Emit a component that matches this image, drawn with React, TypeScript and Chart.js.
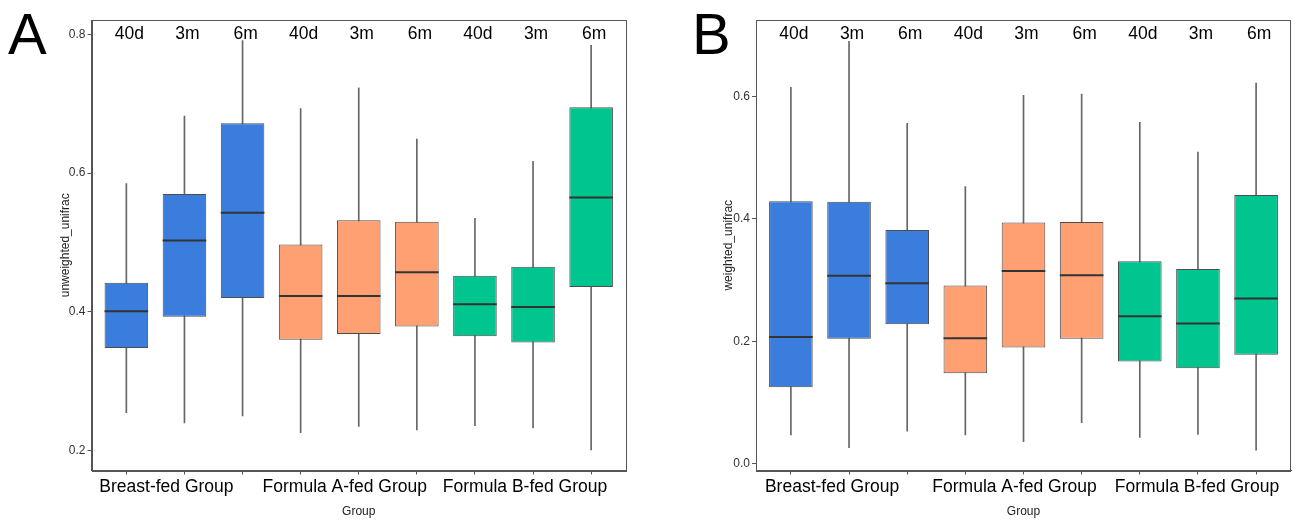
import React, { useEffect, useRef } from "react";
import { Chart, registerables } from "chart.js";

Chart.register(...registerables);

const FONT = '"Liberation Sans", Arial, Helvetica, sans-serif';

const timeLabels = ["40d", "3m", "6m", "40d", "3m", "6m", "40d", "3m", "6m"];
const groupLabels = ["Breast-fed Group", "Formula A-fed Group", "Formula B-fed Group"];
const groupTickPositions = [2, 5, 8];
const boxPositions = [1, 2, 3, 4, 5, 6, 7, 8, 9];
const boxColors = [
  "#3B7DDD", "#3B7DDD", "#3B7DDD",
  "#FFA073", "#FFA073", "#FFA073",
  "#00C58F", "#00C58F", "#00C58F",
];

// Panel A: unweighted_unifrac
const unwLow = [0.255, 0.240, 0.250, 0.226, 0.235, 0.230, 0.236, 0.233, 0.201];
const unwQ1 = [0.348, 0.393, 0.420, 0.360, 0.368, 0.379, 0.365, 0.356, 0.436];
const unwMed = [0.401, 0.503, 0.543, 0.423, 0.423, 0.457, 0.411, 0.407, 0.565];
const unwQ3 = [0.442, 0.570, 0.672, 0.497, 0.532, 0.530, 0.452, 0.465, 0.695];
const unwHigh = [0.585, 0.682, 0.791, 0.693, 0.723, 0.649, 0.535, 0.617, 0.784];
const unwTicks = [0.2, 0.4, 0.6, 0.8];

// Panel B: weighted_unifrac
const wLow = [0.047, 0.026, 0.053, 0.047, 0.036, 0.067, 0.043, 0.048, 0.022];
const wQ1 = [0.125, 0.204, 0.228, 0.148, 0.190, 0.204, 0.167, 0.156, 0.178];
const wMed = [0.207, 0.307, 0.295, 0.205, 0.315, 0.308, 0.241, 0.229, 0.270];
const wQ3 = [0.429, 0.428, 0.382, 0.291, 0.394, 0.395, 0.331, 0.318, 0.439];
const wHigh = [0.615, 0.690, 0.556, 0.453, 0.602, 0.604, 0.558, 0.509, 0.622];
const wTicks = [0.0, 0.2, 0.4, 0.6];

type PanelProps = {
  letter: string;
  letterX: number;
  yTitle: string;
  low: number[];
  q1: number[];
  med: number[];
  q3: number[];
  high: number[];
  yMin: number;
  yMax: number;
  yTicks: number[];
  padLeft: number;
  padRight: number;
  yWidth: number;
  left: number;
  labelShift: number[];
};

function Panel(p: PanelProps) {
  const ref = useRef<HTMLCanvasElement>(null);
  useEffect(() => {
    if (!ref.current) return;
    const extras = {
      id: "boxExtras",
      afterDatasetsDraw(chart: any) {
        const { ctx, chartArea, scales } = chart;
        const meta = chart.getDatasetMeta(0);
        ctx.save();
        ctx.strokeStyle = "#333333";
        ctx.lineWidth = 2;
        meta.data.forEach((el: any, i: number) => {
          const y = scales.y.getPixelForValue(p.med[i]);
          ctx.beginPath();
          ctx.moveTo(el.x - el.width / 2, y);
          ctx.lineTo(el.x + el.width / 2, y);
          ctx.stroke();
        });
        ctx.fillStyle = "#000";
        ctx.font = `17.5px ${FONT}`;
        ctx.textAlign = "center";
        ctx.textBaseline = "middle";
        timeLabels.forEach((t, i) => {
          ctx.fillText(t, scales.x.getPixelForValue(boxPositions[i]) + 3, chartArea.top + 14);
        });
        // group labels under the x axis
        ctx.textBaseline = "top";
        groupLabels.forEach((g, i) => {
          ctx.fillText(
            g,
            scales.x.getPixelForValue(groupTickPositions[i]) + p.labelShift[i],
            chartArea.bottom + 8
          );
        });
        ctx.strokeStyle = "#555555";
        ctx.lineWidth = 1;
        ctx.strokeRect(
          Math.round(chartArea.left) + 0.5,
          Math.round(chartArea.top) + 0.5,
          Math.round(chartArea.right - chartArea.left) - 1,
          Math.round(chartArea.bottom - chartArea.top)
        );
        ctx.font = `58px ${FONT}`;
        ctx.textAlign = "left";
        ctx.textBaseline = "alphabetic";
        ctx.fillText(p.letter, p.letterX, 54);
        ctx.restore();
      },
    };
    const chart = new Chart(ref.current, {
      type: "bar",
      data: {
        datasets: [
          {
            data: boxPositions.map((x, i) => ({ x, y: [p.q1[i], p.q3[i]] })) as any,
            backgroundColor: boxColors,
            borderColor: "#4d4d4d",
            borderWidth: 1,
            borderSkipped: false,
            barPercentage: 0.75,
            categoryPercentage: 1,
            grouped: false,
            order: 0,
          },
          {
            data: boxPositions.map((x, i) => ({ x, y: [p.low[i], p.high[i]] })) as any,
            backgroundColor: "#666666",
            borderWidth: 0,
            barThickness: 1,
            grouped: false,
            order: 1,
          },
        ],
      },
      options: {
        responsive: false,
        animation: false,
        layout: { padding: { left: p.padLeft, right: p.padRight, top: 20, bottom: 0 } },
        plugins: { legend: { display: false }, tooltip: { enabled: false } },
        scales: {
          x: {
            type: "linear",
            offset: false,
            min: 0.4,
            max: 9.6,
            afterBuildTicks: (s: any) => {
              s.ticks = boxPositions.map((v) => ({ value: v }));
            },
            afterFit: (s: any) => {
              s.height = 49.5;
            },
            ticks: {
              autoSkip: false,
              maxRotation: 0,
              minRotation: 0,
              padding: 3,
              color: "#000",
              font: { size: 17, family: FONT },
              callback: () => "",
            },
            grid: { offset: false, drawOnChartArea: false, tickLength: 4, color: "#555555" },
            border: { color: "#555555" },
            title: {
              display: true,
              text: "Group",
              color: "#222",
              font: { size: 12, family: FONT },
              padding: { top: 4, bottom: 1 },
            },
          },
          y: {
            type: "linear",
            min: p.yMin,
            max: p.yMax,
            afterBuildTicks: (s: any) => {
              s.ticks = p.yTicks.map((v) => ({ value: v }));
            },
            afterFit: (s: any) => {
              s.width = p.yWidth;
            },
            ticks: {
              padding: 2,
              color: "#333",
              font: { size: 12, family: FONT },
              callback: (v: any) => Number(v).toFixed(1),
            },
            grid: { drawOnChartArea: false, tickLength: 4, color: "#555555" },
            border: { color: "#555555" },
            title: {
              display: true,
              text: p.yTitle,
              color: "#222",
              font: { size: 12, family: FONT },
              padding: { top: 4, bottom: 4 },
            },
          },
        },
      },
      plugins: [extras],
    } as any);
    return () => chart.destroy();
  }, []);
  return (
    <canvas
      ref={ref}
      width={648}
      height={520}
      style={{ position: "absolute", left: p.left, top: 0, width: 648, height: 520 }}
    />
  );
}

export default function App() {
  return (
    <div style={{ position: "fixed", left: 0, top: 0, width: 1296, height: 520, background: "#fff" }}>
      <Panel
        letter="A"
        letterX={8}
        yTitle="unweighted_unifrac"
        low={unwLow}
        q1={unwQ1}
        med={unwMed}
        q3={unwQ3}
        high={unwHigh}
        yMin={0.1715}
        yMax={0.8206}
        yTicks={unwTicks}
        padLeft={54}
        padRight={22}
        yWidth={37.5}
        left={0}
        labelShift={[-18, -14, -8]}
      />
      <Panel
        letter="B"
        letterX={44}
        yTitle="weighted_unifrac"
        low={wLow}
        q1={wQ1}
        med={wMed}
        q3={wQ3}
        high={wHigh}
        yMin={-0.0111}
        yMax={0.725}
        yTicks={wTicks}
        padLeft={69}
        padRight={5}
        yWidth={39}
        left={648}
        labelShift={[-17, -9, -1]}
      />
    </div>
  );
}
